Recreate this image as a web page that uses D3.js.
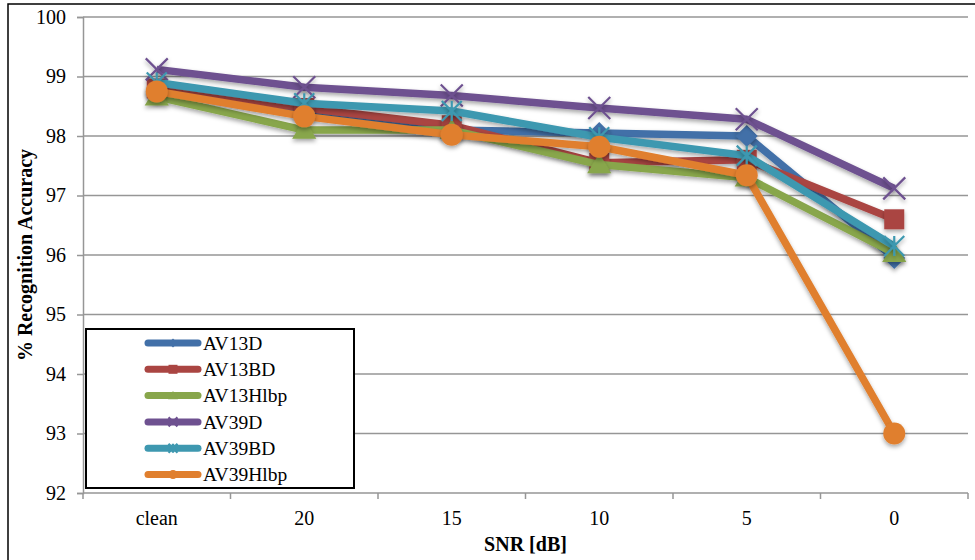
<!DOCTYPE html>
<html>
<head>
<meta charset="utf-8">
<script src="https://cdn.jsdelivr.net/npm/d3@7"></script>
<style>
body { margin: 0; background: #fff; }
text { font-family: "Liberation Serif", "Times New Roman", serif; fill: #000; }
</style>
</head>
<body>
<div id="chart"></div>
<script>
var w = 975;
var h = 560;

var categories = ["clean", "20", "15", "10", "5", "0"];
var seriesNames = ["AV13D", "AV13BD", "AV13Hlbp", "AV39D", "AV39BD", "AV39Hlbp"];
var av13d    = [98.75, 98.45, 98.10, 98.05, 98.00, 95.95];
var av13bd   = [98.80, 98.47, 98.18, 97.55, 97.60, 96.60];
var av13hlbp = [98.66, 98.10, 98.10, 97.52, 97.30, 96.03];
var av39d    = [99.12, 98.82, 98.68, 98.47, 98.28, 97.12];
var av39bd   = [98.90, 98.55, 98.42, 97.98, 97.67, 96.15];
var av39hlbp = [98.75, 98.33, 98.02, 97.82, 97.34, 93.00];
var yTicks = [92, 93, 94, 95, 96, 97, 98, 99, 100];

var colors = ["#4270a8", "#aa4542", "#88a64b", "#6e5190", "#3e98b0", "#e07f2e"];
var markers = ["diamond", "square", "triangle", "x", "star", "circle"];

var series = seriesNames.map(function(n, i) {
    return { name: n, values: [av13d, av13bd, av13hlbp, av39d, av39bd, av39hlbp][i], color: colors[i], marker: markers[i] };
});

var plot = { left: 83, right: 968, top: 17, bottom: 493 };

var xScale = d3.scalePoint()
    .domain(categories)
    .range([plot.left, plot.right])
    .padding(0.5);

var yScale = d3.scaleLinear()
    .domain([92, 100])
    .range([plot.bottom, plot.top]);

var svg = d3.select("#chart").append("svg")
    .attr("width", w)
    .attr("height", h);

var defs = svg.append("defs");
var f = defs.append("filter").attr("id", "shadow")
    .attr("x", "-50%").attr("y", "-50%").attr("width", "200%").attr("height", "200%");
f.append("feDropShadow").attr("dx", 0).attr("dy", 2.5).attr("stdDeviation", 2)
    .attr("flood-color", "#000").attr("flood-opacity", 0.35);

// outer frame
svg.append("rect")
    .attr("x", 8).attr("y", 4)
    .attr("width", w).attr("height", h)
    .attr("fill", "none").attr("stroke", "#000").attr("stroke-width", 1.5);

// gridlines
svg.append("g").selectAll("line")
    .data(yTicks.filter(function(d) { return d > 92; }))
    .enter().append("line")
    .attr("x1", plot.left).attr("x2", plot.right)
    .attr("y1", function(d) { return yScale(d); })
    .attr("y2", function(d) { return yScale(d); })
    .attr("stroke", "#969696").attr("stroke-width", 1.5);

// y axis
var yAxis = svg.append("g")
    .attr("transform", "translate(" + plot.left + ",0)")
    .call(d3.axisLeft(yScale).tickValues(yTicks).tickSize(6).tickPadding(11).tickFormat(d3.format("d")));
yAxis.selectAll("line, path").attr("stroke", "#969696").attr("stroke-width", 1.5);
yAxis.selectAll("text").attr("font-size", "20px").attr("font-family", "Liberation Serif").attr("fill", "#000");

// x axis (ticks at category boundaries)
var bounds = d3.range(categories.length + 1).map(function(i) {
    return plot.left + i * (plot.right - plot.left) / categories.length;
});
var xg = svg.append("g");
xg.append("line")
    .attr("x1", plot.left).attr("x2", plot.right)
    .attr("y1", plot.bottom).attr("y2", plot.bottom)
    .attr("stroke", "#969696").attr("stroke-width", 1.5);
xg.selectAll(".tk").data(bounds).enter().append("line")
    .attr("x1", function(d) { return d; }).attr("x2", function(d) { return d; })
    .attr("y1", plot.bottom).attr("y2", plot.bottom + 6)
    .attr("stroke", "#969696").attr("stroke-width", 1.5);
xg.selectAll("text").data(categories).enter().append("text")
    .attr("x", function(d) { return xScale(d); })
    .attr("y", 525)
    .attr("text-anchor", "middle")
    .attr("font-size", "20px")
    .text(function(d) { return d; });

// axis titles
svg.append("text")
    .attr("x", (plot.left + plot.right) / 2)
    .attr("y", 551)
    .attr("text-anchor", "middle")
    .attr("font-size", "20px")
    .attr("font-weight", "bold")
    .text("SNR [dB]");

svg.append("text")
    .attr("transform", "translate(32," + ((plot.top + plot.bottom) / 2) + ") rotate(-90)")
    .attr("text-anchor", "middle")
    .attr("font-size", "20px")
    .attr("font-weight", "bold")
    .text("% Recognition Accuracy");

// marker drawing
function drawMarker(g, type, color, s) {
    if (type === "diamond") {
        g.append("path").attr("d", "M0," + (-s) + "L" + s + ",0L0," + s + "L" + (-s) + ",0Z").attr("fill", color);
    } else if (type === "square") {
        g.append("rect").attr("x", -s).attr("y", -s).attr("width", 2 * s).attr("height", 2 * s).attr("fill", color);
    } else if (type === "triangle") {
        g.append("path").attr("d", "M0," + (-s) + "L" + (s * 1.1) + "," + (s * 0.8) + "L" + (-s * 1.1) + "," + (s * 0.8) + "Z").attr("fill", color);
    } else if (type === "x") {
        g.append("path").attr("d", "M" + (-s) + "," + (-s) + "L" + s + "," + s + "M" + (-s) + "," + s + "L" + s + "," + (-s))
            .attr("stroke", color).attr("stroke-width", 2.2).attr("fill", "none");
    } else if (type === "star") {
        g.append("path").attr("d", "M" + (-s) + "," + (-s) + "L" + s + "," + s + "M" + (-s) + "," + s + "L" + s + "," + (-s) + "M0," + (-s) + "L0," + s)
            .attr("stroke", color).attr("stroke-width", 2.2).attr("fill", "none");
    } else {
        g.append("circle").attr("r", s).attr("fill", color);
    }
}
var markerSize = { diamond: 11, square: 10, triangle: 11, x: 11, star: 10, circle: 11 };

var line = d3.line()
    .x(function(d, i) { return xScale(categories[i]); })
    .y(function(d) { return yScale(d); });

series.forEach(function(s) {
    var g = svg.append("g");
    g.append("path")
        .attr("d", line(s.values))
        .attr("fill", "none")
        .attr("stroke", s.color)
        .attr("stroke-width", 7.5)
        .attr("stroke-linejoin", "round")
        .attr("filter", "url(#shadow)");
    s.values.forEach(function(v, i) {
        var m = g.append("g")
            .attr("transform", "translate(" + xScale(categories[i]) + "," + yScale(v) + ")")
            .attr("filter", "url(#shadow)");
        drawMarker(m, s.marker, s.color, markerSize[s.marker]);
    });
});

// legend
var legend = svg.append("g");
legend.append("rect")
    .attr("x", 86).attr("y", 329)
    .attr("width", 268).attr("height", 159)
    .attr("fill", "#fff").attr("stroke", "#000").attr("stroke-width", 2);
series.forEach(function(s, i) {
    var ly = 343 + i * 26.3;
    var lg = legend.append("g");
    lg.append("line")
        .attr("x1", 148).attr("x2", 198)
        .attr("y1", ly).attr("y2", ly)
        .attr("stroke", s.color).attr("stroke-width", 7)
        .attr("stroke-linecap", "round");
    var m = lg.append("g").attr("transform", "translate(173," + ly + ")");
    drawMarker(m, s.marker, s.color, 4.5);
    lg.append("text")
        .attr("x", 203).attr("y", ly)
        .attr("dy", "0.35em")
        .attr("font-size", "19.5px")
        .text(s.name);
});
</script>
</body>
</html>
